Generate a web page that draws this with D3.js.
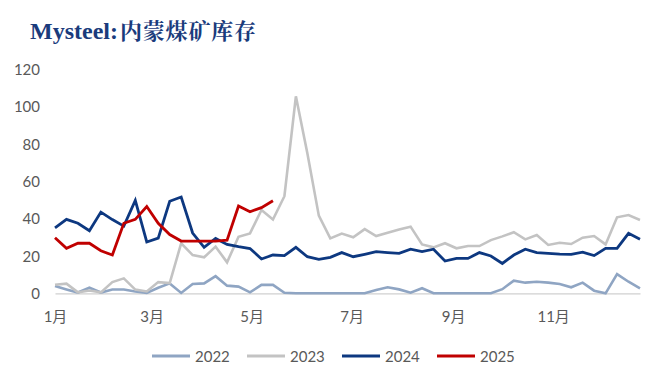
<!DOCTYPE html>
<html><head><meta charset="utf-8">
<script src="https://cdn.jsdelivr.net/npm/d3@7/dist/d3.min.js"></script>
<style>body{margin:0;background:#fff}svg{display:block}</style>
</head><body><svg id="c" width="660" height="385"></svg>
<script>
const titleLatin = "Mysteel:";
const titleCJK = "内蒙煤矿库存";
const years = ["2022","2023","2024","2025"];
const colors = ["#8fa5c3","#c3c3c3","#0d3880","#c00000"];
const s2022 = [3.9,2.1,0.4,3,0.4,2,2,1,0.2,3,5.3,0.2,5,5.3,9.2,4.1,3.6,0.5,4.5,4.5,0.3,0,0,0,0,0,0,0,1.8,3.2,2.1,0.3,2.7,0,0,0,0,0,0,2.2,6.8,5.7,6.2,5.7,5,3.2,5.7,1.4,0,10.3,6.2,2.7];
const s2023 = [4.6,5.2,0.5,1.5,0.5,6,8,2,1,6,5.5,26.8,20.5,19.3,25,16.6,30.3,32.1,44.6,39.5,52,105.5,75,41.6,29.4,32,30,34.4,30.7,32.5,34.2,35.7,26.2,24.6,26.8,24.1,25.3,25.3,28.5,30.5,32.7,28.9,31.2,25.9,27.1,26.4,29.8,30.7,26.2,40.7,41.9,39.3];
const s2024 = [35,39.6,37.5,33.5,43.5,39.5,36,49.8,27.5,29.6,49.3,51.6,32.3,24.6,29.4,26.2,25,24,18.4,20.5,20.2,24.6,19.6,18.2,19.3,21.8,19.6,20.9,22.3,21.8,21.4,23.6,22.3,23.6,17.3,18.7,18.7,21.8,20,16,20.5,23.6,21.8,21.4,21,20.9,22,20.2,24.1,24.1,32.1,28.9];
const s2025 = [29.8,24.1,26.8,26.8,22.8,20.5,37.5,39.6,46.5,37.5,31.5,28,28,28,28,28.5,46.8,43.7,45.9,49.6];
const series = [s2022,s2023,s2024,s2025];
const yTicks = [0,20,40,60,80,100,120];
const monthDays = [0,59,120,181,243,304];
const monthLabels = ["1月","3月","5月","7月","9月","11月"];

const svg = d3.select("#c");
const x = d3.scaleLinear().domain([0,51]).range([55,640]);
const y = d3.scaleLinear().domain([0,120]).range([293.3,69.3]);
const font = "Lato, 'Noto Sans CJK SC', sans-serif";

const t = svg.append("text").attr("x",30).attr("y",39)
  .attr("font-family","'Liberation Serif','Noto Serif CJK SC','Noto Sans CJK SC',serif")
  .attr("font-weight","bold").attr("fill","#1a3b7c");
t.append("tspan").attr("font-size",24).text(titleLatin);
t.append("tspan").attr("x",120).attr("font-size",22).attr("letter-spacing",0.8).text(titleCJK);

// y axis labels
const ya = svg.append("g").attr("transform","translate(40,0)")
  .call(d3.axisLeft(y).tickValues(yTicks).tickSize(0).tickPadding(0));
ya.select(".domain").remove();
ya.selectAll("text").attr("font-family",font).attr("font-size",15).attr("fill","#595959").attr("dy","0.35em");

// x axis
const xa = svg.append("g").attr("transform","translate(0,293.3)")
  .call(d3.axisBottom(x).tickValues(monthDays.map(d=>d/7)).tickFormat((d,i)=>monthLabels[i]).tickSize(0).tickPadding(18));
xa.select(".domain").attr("stroke","#d0d0d0").attr("stroke-width",1.2);
xa.selectAll("text").attr("font-family",font).attr("font-size",15).attr("fill","#595959");

const line = d3.line().x((d,i)=>x(i)).y(d=>y(d));
series.forEach((s,k)=>{
  svg.append("path").datum(s).attr("d",line).attr("fill","none")
    .attr("stroke",colors[k]).attr("stroke-width",k>=2?2.8:2.6).attr("stroke-linejoin","miter");
});

// legend
const lg = svg.append("g");
const lx = [152,247,342,437];
years.forEach((yr,k)=>{
  lg.append("line").attr("x1",lx[k]).attr("x2",lx[k]+38).attr("y1",356).attr("y2",356)
    .attr("stroke",colors[k]).attr("stroke-width",2.8);
  lg.append("text").attr("x",lx[k]+43).attr("y",361.5).attr("font-family",font).attr("font-size",15)
    .attr("fill","#595959").text(yr);
});
</script></body></html>
